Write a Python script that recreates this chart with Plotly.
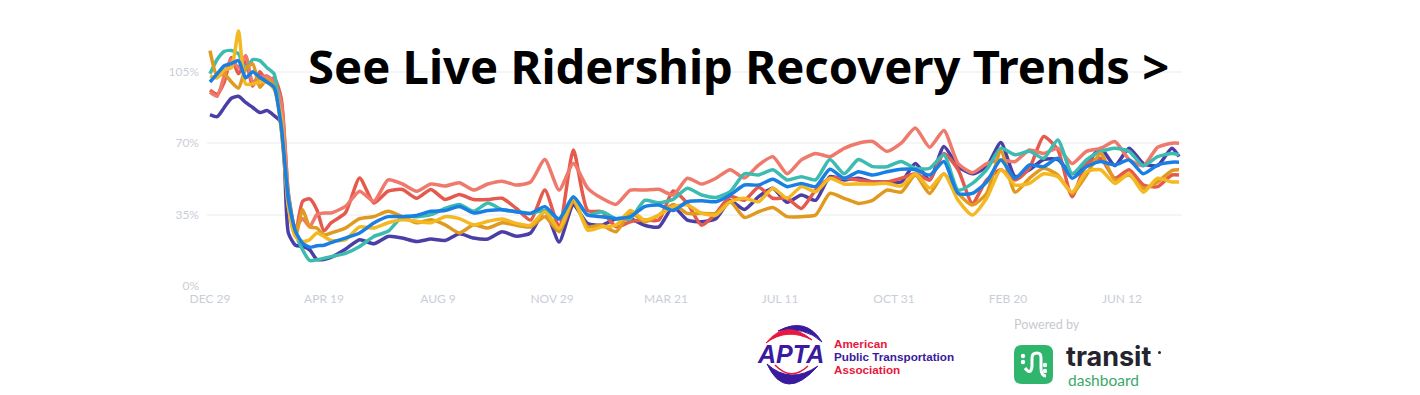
import plotly.graph_objects as go

weeks = list(range(0, 17)) + list(range(17, 136, 2)) + [136]
tick_weeks = [0, 16, 32, 48, 64, 80, 96, 112, 128]
tick_labels = ["DEC 29", "APR 19", "AUG 9", "NOV 29", "MAR 21", "JUL 11", "OCT 31", "FEB 20", "JUN 12"]
y_ticks = [0, 35, 70, 105]
y_labels = ["0%", "35%", "70%", "105%"]

indigo = [84,83,87.5,92,93,90,87.5,85,86,83.5,80,26,20,19.4,17.7,13,13,
          14,18,22.7,20.7,24.3,23.5,21.8,23,22.3,25.6,23.5,23,26.6,
          24.4,26,37,21.6,39.7,30.6,29.8,33,33,29.8,29,38.9,32.3,31.5,33,41.8,37.5,43.8,47.9,41,44.6,42,53.6,
          52,52.8,51,51,51,60,52,68.4,58.5,55,58.5,70.3,53.6,57,62,62,55,60,67.5,59,67.5,60,59,67.5,63.4]
red = [96,94,100,112,104,110,98,105,100,102,92,45,26,41.5,42.7,37.4,27,
       31,35.8,53,40.7,46.5,47.3,43,47.3,42.4,44.8,42.4,42.4,43,
       38,32.3,47,29,66.7,37,36.4,29,31.5,32.3,32.3,46.6,40.5,29.8,35.6,43.8,42,48.4,43,43,38,47,52.8,
       52.8,52,51,51,52.8,55,52,65,57,40.5,52,57,52,57.7,73.3,66.7,43.8,60,62.6,52.8,57,49.5,48.7,54.4,54.4]
salmon = [95,93,103,111,107,113,100,102,103,100,90,45.6,29,33,29,35,35.8,
          35.8,39,46.5,41.5,52,50,46.5,50,49,50.6,47,50,51.4,
          49.5,51,62,47,60,48,43,40,47,47,47.4,44.6,52.8,50,52.8,57,53,59.3,63.4,55,61.8,65,63.4,
          67.5,70,70.8,66,70,77.4,68,76.2,60,55.6,60,61.8,61,66.7,65,67.5,60,66,67.5,70.8,62,59,68,70,70]
teal = [104,111,115,115.4,113.8,106,111,110.5,107,104,77,44,26,17.7,12.5,12.8,13.6,
        14.4,16,19.4,24.3,26.8,34,34,35,38,40,36.6,40.7,37.4,
        36.4,35.6,37,33,43.4,34.8,36.4,33,33,42,40.8,42.5,47.9,44.6,43.4,46.2,55,54.4,57,52,53.6,52,62,
        55,62,58.5,58.5,61,57.7,57.7,64.3,47,50.3,57,67.5,64.3,66,62.6,71.6,55,61.8,66,67.5,66,59,63.4,65,64.3]
orange = [115.4,103,104,100,97,106.4,108.9,97.4,101.5,98,77,39,24.3,37.4,29,28.4,25,
          26,28.4,33,34,36.6,34,31,32.5,30,26,30,28.4,31,
          29.8,29,34,26.6,41.3,29,29.8,26.6,36,31.5,34.8,40,35.6,35.6,35.6,41.3,33.6,36.4,38.5,34,34,34.8,45.4,
          43,40.5,42,47,46,54.4,45.4,55,45.4,39.7,45.4,66,46,52.8,57.7,54.4,45.4,54.4,65,52,54.4,47.9,51,56.6,57]
yellow = [103,102,106,107,125,99,99,100,100,96.5,83,39,24.3,21.8,22.7,26,24.3,
          22.3,22.7,29,28.4,31,32.5,31.7,31,34,33,30,31.7,32.8,
          30.7,29.8,36.4,28.2,43,27.4,29,29.8,37,32.3,34.8,38.9,39.7,35.6,34.8,41.3,43,41.3,47.9,43,48.7,46.2,52.8,
          50,50,50,50.3,49,55,48,55,42,34.8,43,57,49.5,50.3,55,53.6,46,56,57,50.3,55,46,52.8,51,51]
blue = [100,104,108,109,110.5,102,105,102.3,100,97.4,78.5,42.4,26.8,21,19,19.7,20,
        21.3,23.5,26,30.9,34,34,34.6,36.6,37,39,35.8,37,37.4,
        36.4,35.6,38.9,32.8,43.8,34.8,34,33,34,38.9,39.7,37,41.3,41.8,41.3,44.6,49.5,49.5,52.3,48.7,50.3,48.7,57.2,
        52.8,56,54.4,56,57.2,57,54.4,61,45.4,45.4,51,61.8,52.8,59.3,58.5,62.6,52.8,58.5,61,59.3,61.8,55,59.3,60.7,60.7]

series = [("Indigo", indigo, "#4a3fa6"), ("Red", red, "#e55a4d"), ("Salmon", salmon, "#ef7a6b"),
          ("Teal", teal, "#3cbcb0"), ("Orange", orange, "#e09a1f"), ("Yellow", yellow, "#f4b922"),
          ("Blue", blue, "#1a7fe3")]

# page coordinates; the page body adds an 8 px margin
OFF = 8
L, R, B = 207, 1182, 286
W, H = 1404, 386
def px(x): return (x - L) / (R - L)
def py(y): return (B - y) / (B - OFF)
def P(cmds):
    return " ".join(c if isinstance(c, str) else f"{px(c[0]):.5f},{py(c[1]):.5f}" for c in cmds)

fig = go.Figure()
for name, vals, col in series:
    assert len(vals) == len(weeks), (name, len(vals))
    fig.add_trace(go.Scatter(x=weeks, y=vals, mode="lines", name=name,
                             line=dict(color=col, width=3.5, shape="spline", smoothing=0.6)))

shapes = []
def fill(d, col, w=0):
    shapes.append(dict(type="path", xref="paper", yref="paper", path=P(d), fillcolor=col,
                       line=dict(color=col, width=w), layer="above"))
def stroke(d, col, w):
    shapes.append(dict(type="path", xref="paper", yref="paper", path=P(d),
                       line=dict(color=col, width=w), layer="above"))
fill(["M", (778, 331), "Q", (806, 316), (822, 342), "Q", (805, 326), (778, 331), "Z"], "#3a1a9e", 1)
fill(["M", (766, 343), "Q", (786, 318), (812, 340), "Q", (787, 327), (766, 343), "Z"], "#e8173c", 1)
fill(["M", (767, 364), "Q", (785, 403), (818, 366), "Q", (790, 385), (767, 364), "Z"], "#3a1a9e", 1)
stroke(["M", (775, 365), "Q", (791, 382), (808, 366)], "#e8173c", 1.5)

x0, x1, y0, y1, r = 1014, 1053, 345, 384, 8
shapes.append(dict(type="path", xref="paper", yref="paper", fillcolor="#2fb56c", line=dict(width=0), layer="above",
    path=P(["M", (x0 + r, y0), "L", (x1 - r, y0), "Q", (x1, y0), (x1, y0 + r), "L", (x1, y1 - r), "Q", (x1, y1), (x1 - r, y1),
            "L", (x0 + r, y1), "Q", (x0, y1), (x0, y1 - r), "L", (x0, y0 + r), "Q", (x0, y0), (x0 + r, y0), "Z"])))
stroke(["M", (1025, 368), "Q", (1031, 376), (1032, 366), "L", (1032, 358), "Q", (1032, 353), (1037, 353),
        "Q", (1041, 353), (1041, 358), "L", (1041, 368), "Q", (1041, 376), (1046, 376)], "#ffffff", 3)
for cx, cy in [(1023, 356), (1023, 362), (1045, 365), (1045, 371)]:
    shapes.append(dict(type="circle", xref="paper", yref="paper", x0=px(cx - 2.2), x1=px(cx + 2.2), y0=py(cy + 2.2), y1=py(cy - 2.2),
                       fillcolor="#ffffff", line=dict(width=0), layer="above"))
shapes.append(dict(type="circle", xref="paper", yref="paper", x0=px(1158), x1=px(1161), y0=py(354), y1=py(351),
                   fillcolor="#24242e", line=dict(width=0), layer="above"))

def note(x, y, text, size, color, family="Liberation Sans", anchor="left"):
    return dict(xref="paper", yref="paper", x=px(x), y=py(y), text=text, showarrow=False, xanchor=anchor, yanchor="middle",
                font=dict(family=family, size=size, color=color), borderpad=0)

annots = [
    note(307, 66, "<b>See Live Ridership Recovery Trends &gt;</b>", 47.2, "#000000", "Noto Sans"),
    note(790, 354, "<b><i>APTA</i></b>", 25, "#3a1a9e", "Liberation Sans", "center"),
    note(833, 343, "<b>American</b>", 11.7, "#e8173c"),
    note(833, 356, "<b>Public Transportation</b>", 11.7, "#3a1a9e"),
    note(833, 369, "<b>Association</b>", 11.7, "#e8173c"),
    note(1013, 324, "Powered by", 12.6, "#c6cad0", "Lato"),
    note(1065, 356, "<b>transit</b>", 27, "#24242e", "Inter"),
    note(1067, 380, "dashboard", 15.5, "#3aa968", "Lato"),
]

fig.update_layout(
    width=W, height=H, autosize=False, showlegend=False,
    paper_bgcolor="#ffffff", plot_bgcolor="#ffffff",
    margin=dict(l=L - OFF, r=W - (R - OFF), t=0, b=H - (B - OFF)),
    shapes=shapes, annotations=annots,
    xaxis=dict(range=[-0.42, 136.42], tickvals=tick_weeks, ticktext=tick_labels, showgrid=False, zeroline=False,
               showline=False, ticks="", ticklabelstandoff=4, tickfont=dict(family="Lato", size=12, color="#c9ced8")),
    yaxis=dict(range=[0, 136.27], tickvals=y_ticks, ticktext=y_labels, showgrid=True, gridcolor="#f4f5f7", gridwidth=1.5,
               zeroline=False, showline=False, ticks="", ticklabelstandoff=7, tickfont=dict(family="Lato", size=12, color="#c9ced8")),
)
fig.write_html("out.html")
